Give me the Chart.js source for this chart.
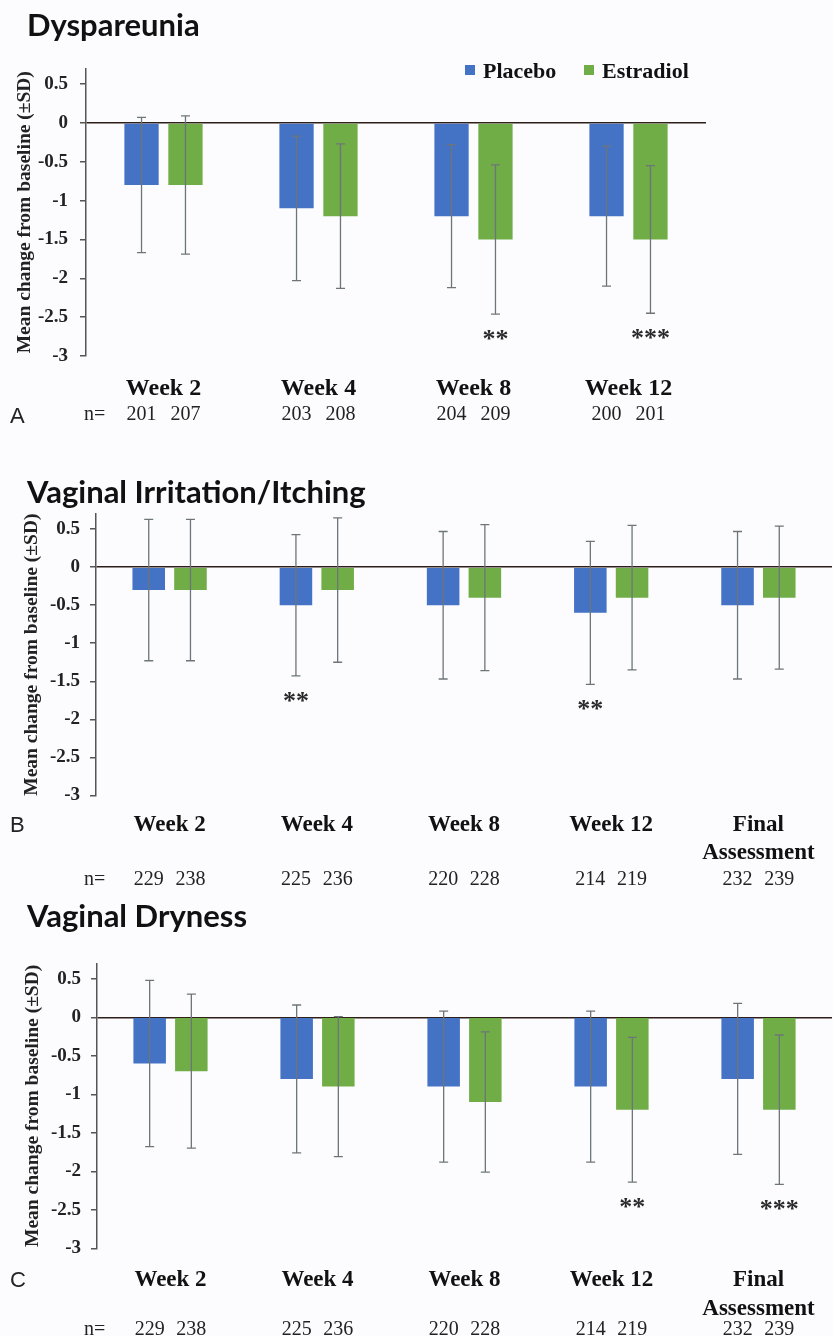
<!DOCTYPE html>
<html>
<head>
<meta charset="utf-8">
<script src="https://cdn.jsdelivr.net/npm/chart.js@4.4.1/dist/chart.umd.min.js"></script>
<style>
  body { margin: 0; background: #fcfcfe; }
  #wrap { position: relative; width: 833px; height: 1336px; }
  canvas { position: absolute; left: 0; }
</style>
</head>
<body>
<div id="wrap">
  <canvas id="chartA" style="top:0px;width:833px;height:430px"></canvas>
  <canvas id="chartB" style="top:430px;width:833px;height:455px"></canvas>
  <canvas id="chartC" style="top:885px;width:833px;height:451px"></canvas>
</div>
<script>
// ---- data ----
const weeks4 = ["Week 2", "Week 4", "Week 8", "Week 12"];
const weeks5 = ["Week 2", "Week 4", "Week 8", "Week 12", ["Final", "Assessment"]];

// A - Dyspareunia
const dysPlacebo = [-0.8, -1.1, -1.2, -1.2];
const dysPlaceboSD = [0.87, 0.93, 0.92, 0.90];
const dysEstradiol = [-0.8, -1.2, -1.5, -1.5];
const dysEstradiolSD = [0.89, 0.93, 0.96, 0.95];
const dysPlaceboN = [201, 203, 204, 200];
const dysEstradiolN = [207, 208, 209, 201];
const dysPlaceboSig = ["", "", "", ""];
const dysEstradiolSig = ["", "", "**", "***"];

// B - Vaginal Irritation/Itching
const irrPlacebo = [-0.3, -0.5, -0.5, -0.6, -0.5];
const irrPlaceboSD = [0.93, 0.93, 0.97, 0.94, 0.97];
const irrEstradiol = [-0.3, -0.3, -0.4, -0.4, -0.4];
const irrEstradiolSD = [0.93, 0.95, 0.96, 0.95, 0.94];
const irrPlaceboN = [229, 225, 220, 214, 232];
const irrEstradiolN = [238, 236, 228, 219, 239];
const irrPlaceboSig = ["", "**", "", "**", ""];
const irrEstradiolSig = ["", "", "", "", ""];

// C - Vaginal Dryness
const dryPlacebo = [-0.6, -0.8, -0.9, -0.9, -0.8];
const dryPlaceboSD = [1.08, 0.96, 0.98, 0.98, 0.98];
const dryEstradiol = [-0.7, -0.9, -1.1, -1.2, -1.2];
const dryEstradiolSD = [1.0, 0.91, 0.91, 0.94, 0.97];
const dryPlaceboN = [229, 225, 220, 214, 232];
const dryEstradiolN = [238, 236, 228, 219, 239];
const dryPlaceboSig = ["", "", "", "", ""];
const dryEstradiolSig = ["", "", "", "**", "***"];

const BLUE = "#4472c4";
const GREEN = "#70ad47";
const SERIF = '"Liberation Serif", "Times New Roman", serif';

// error bars, significance stars, placed from the bar elements
const errorBars = {
    id: "errorBars",
    afterDatasetsDraw(chart) {
        const ctx = chart.ctx;
        const y = chart.scales.y;
        ctx.save();
        chart.data.datasets.forEach((ds, i) => {
            chart.getDatasetMeta(i).data.forEach((bar, j) => {
                const hi = y.getPixelForValue(ds.data[j] + ds.sd[j]);
                const lo = y.getPixelForValue(ds.data[j] - ds.sd[j]);
                ctx.strokeStyle = "#6e7579";
                ctx.lineWidth = 1.3;
                ctx.beginPath();
                ctx.moveTo(bar.x, hi); ctx.lineTo(bar.x, lo);
                ctx.moveTo(bar.x - 4.5, hi); ctx.lineTo(bar.x + 4.5, hi);
                ctx.moveTo(bar.x - 4.5, lo); ctx.lineTo(bar.x + 4.5, lo);
                ctx.stroke();
                if (ds.sig[j]) {
                    ctx.fillStyle = "#2a2a2a";
                    ctx.font = "bold 26px " + SERIF;
                    ctx.textAlign = "center";
                    ctx.textBaseline = "alphabetic";
                    ctx.fillText(ds.sig[j], bar.x, lo + 33);
                }
            });
        });
        ctx.restore();
    }
};

// title, panel letter, n= row and legend
const panelText = {
    id: "panelText",
    afterDraw(chart, args, opts) {
        const ctx = chart.ctx;
        ctx.save();
        ctx.textBaseline = "alphabetic";
        ctx.fillStyle = "#111";

        ctx.textAlign = "left";
        ctx.font = "bold 31px Lato";
        ctx.fillText(opts.title, 27, opts.titleY);

        ctx.font = '22px "Liberation Sans"';
        ctx.fillStyle = "#222";
        ctx.fillText(opts.letter, 10, opts.letterY);

        ctx.font = "20px " + SERIF;
        ctx.fillText("n=", 84, opts.nY);
        ctx.textAlign = "center";
        chart.data.datasets.forEach((ds, i) => {
            chart.getDatasetMeta(i).data.forEach((bar, j) => {
                ctx.fillText(String(ds.n[j]), bar.x, opts.nY);
            });
        });

        if (opts.legend) {
            ctx.textAlign = "left";
            ctx.font = "bold 22px " + SERIF;
            const spots = [465, 584];
            chart.data.datasets.forEach((ds, i) => {
                ctx.fillStyle = ds.backgroundColor;
                ctx.fillRect(spots[i], 65, 10, 10);
                ctx.fillStyle = "#111";
                ctx.fillText(ds.label, spots[i] + 18, 78);
            });
        }
        ctx.restore();
    }
};

function makePanel(id, p) {
    const canvas = document.getElementById(id);
    canvas.width = 833;
    canvas.height = p.height;
    new Chart(canvas, {
        type: "bar",
        data: {
            labels: p.labels,
            datasets: [
                { label: "Placebo", data: p.placebo, sd: p.placeboSD, n: p.placeboN, sig: p.placeboSig, backgroundColor: BLUE },
                { label: "Estradiol", data: p.estradiol, sd: p.estradiolSD, n: p.estradiolN, sig: p.estradiolSig, backgroundColor: GREEN }
            ]
        },
        options: {
            responsive: false,
            animation: false,
            layout: { padding: { top: p.top, right: p.right, left: 0, bottom: 0 } },
            datasets: { bar: { categoryPercentage: 0.567, barPercentage: 0.78 } },
            plugins: {
                legend: { display: false },
                tooltip: { enabled: false },
                panelText: { title: p.title, titleY: p.titleY, letter: p.letter, letterY: p.letterY, nY: p.nY, legend: p.legend }
            },
            scales: {
                x: {
                    grid: { display: false },
                    border: { display: false },
                    ticks: {
                        color: "#111",
                        font: { family: SERIF, size: p.xFont, weight: "bold", lineHeight: 1.25 },
                        padding: p.xPad,
                        maxRotation: 0,
                        autoSkip: false
                    },
                    afterFit: (s) => { s.height = p.xHeight; }
                },
                y: {
                    z: 1,
                    min: -3,
                    max: 0.7,
                    ticks: {
                        stepSize: 0.5,
                        includeBounds: false,
                        color: "#222",
                        padding: p.yPad,
                        font: { family: SERIF, size: 19, weight: "bold" },
                        callback: (v) => String(v)
                    },
                    grid: {
                        color: (c) => (c.tick && c.tick.value === 0 ? "#2e1f18" : "rgba(0,0,0,0)"),
                        lineWidth: 1.5,
                        tickColor: "#555",
                        tickLength: 6,
                        tickWidth: 1.5
                    },
                    border: { color: "#555", width: 1.5 },
                    title: {
                        display: true,
                        text: "Mean change from baseline (\u00b1SD)",
                        color: "#222",
                        font: { family: SERIF, size: 19.5, weight: "bold" },
                        padding: { top: p.titlePad, bottom: 0 }
                    },
                    afterFit: (s) => { s.width = p.left; }
                }
            }
        },
        plugins: [errorBars, panelText]
    });
}

makePanel("chartA", {
    height: 430, top: 68.5, right: 127, left: 86, xHeight: 74, xPad: 10, xFont: 24, yPad: 12, titlePad: 13,
    labels: weeks4,
    placebo: dysPlacebo, placeboSD: dysPlaceboSD, placeboN: dysPlaceboN, placeboSig: dysPlaceboSig,
    estradiol: dysEstradiol, estradiolSD: dysEstradiolSD, estradiolN: dysEstradiolN, estradiolSig: dysEstradiolSig,
    title: "Dyspareunia", titleY: 36, letter: "A", letterY: 423, nY: 420, legend: true
});

makePanel("chartB", {
    height: 455, top: 84, right: 1, left: 96, xHeight: 89.7, xPad: 7, xFont: 23, yPad: 10, titlePad: 20,
    labels: weeks5,
    placebo: irrPlacebo, placeboSD: irrPlaceboSD, placeboN: irrPlaceboN, placeboSig: irrPlaceboSig,
    estradiol: irrEstradiol, estradiolSD: irrEstradiolSD, estradiolN: irrEstradiolN, estradiolSig: irrEstradiolSig,
    title: "Vaginal Irritation/Itching", titleY: 73, letter: "B", letterY: 402, nY: 455, legend: false
});

makePanel("chartC", {
    height: 451, top: 78.4, right: 1, left: 97, xHeight: 87.7, xPad: 9.5, xFont: 23, yPad: 10, titlePad: 21,
    labels: weeks5,
    placebo: dryPlacebo, placeboSD: dryPlaceboSD, placeboN: dryPlaceboN, placeboSig: dryPlaceboSig,
    estradiol: dryEstradiol, estradiolSD: dryEstradiolSD, estradiolN: dryEstradiolN, estradiolSig: dryEstradiolSig,
    title: "Vaginal Dryness", titleY: 41.7, letter: "C", letterY: 402, nY: 450, legend: false
});
</script>
</body>
</html>
